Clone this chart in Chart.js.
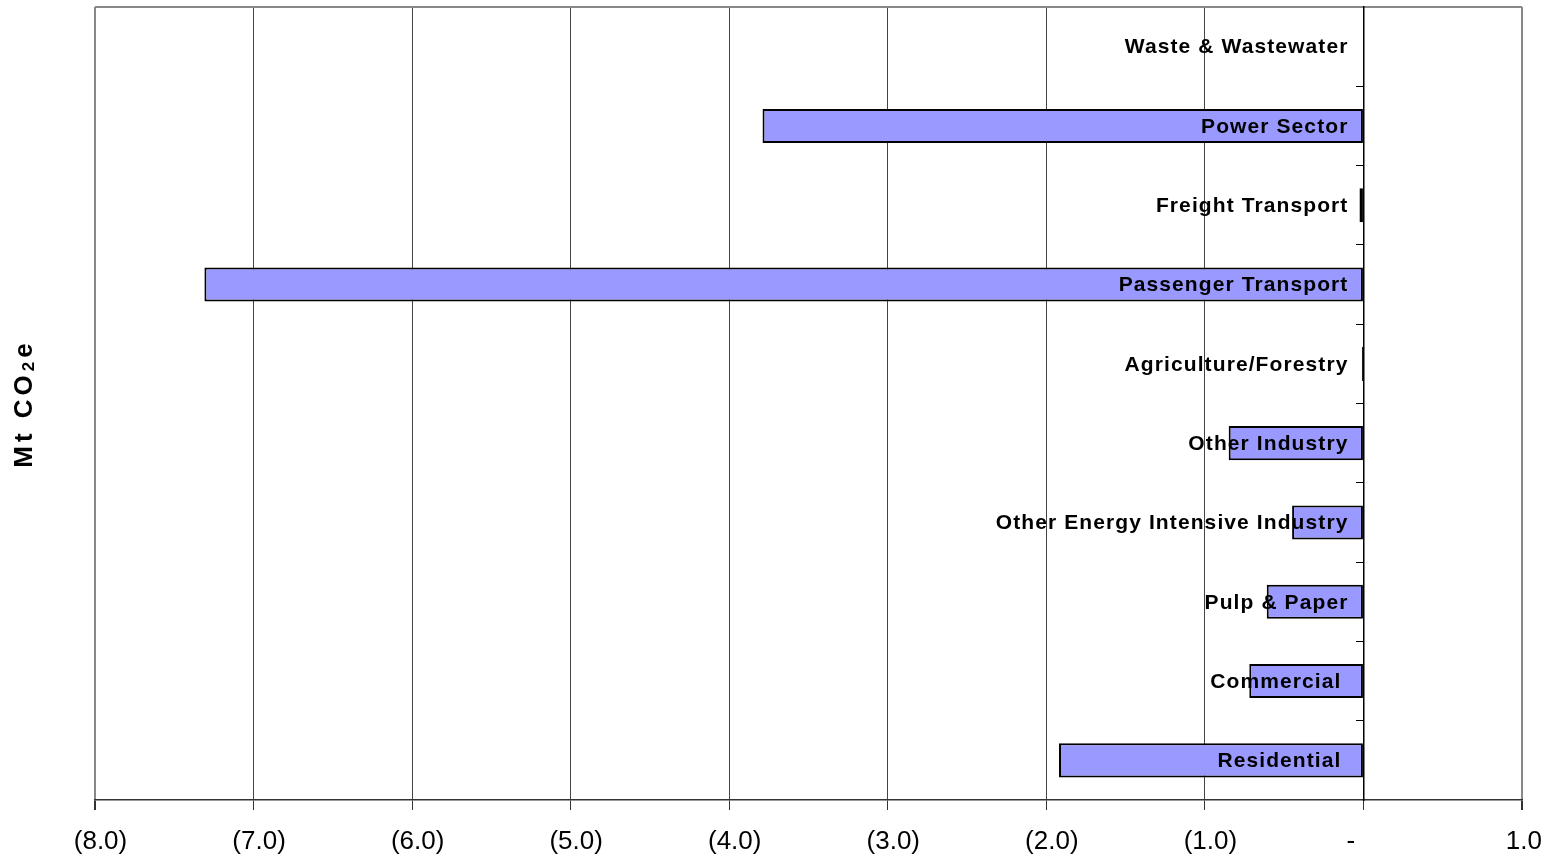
<!DOCTYPE html>
<html>
<head>
<meta charset="utf-8">
<script src="https://cdn.jsdelivr.net/npm/chart.js@4"></script>
<style>
  html, body { margin: 0; padding: 0; background: #fff; }
  #wrap { width: 1550px; height: 858px; }
</style>
</head>
<body>
<div id="wrap"><canvas id="chart"></canvas></div>
<script>
// sectors listed top to bottom (last two carry a trailing space in the source sheet)
const sectors = [
  'Waste & Wastewater',
  'Power Sector',
  'Freight Transport',
  'Passenger Transport',
  'Agriculture/Forestry',
  'Other Industry',
  'Other Energy Intensive Industry',
  'Pulp & Paper',
  'Commercial ',
  'Residential '
];
// change in emissions, Mt CO2e
const reductions = [0, -3.79, -0.025, -7.31, -0.01, -0.85, -0.45, -0.61, -0.72, -1.92];
const xMin = -8;
const xMax = 1;

const FONT = '"Liberation Sans", Arial, sans-serif';
Chart.defaults.font.family = FONT;
Chart.defaults.color = '#000';

// accounting style: (x.x) for negatives, dash for zero
function fmtTick(v) {
  if (v === 0) return '-     ';
  if (v < 0) return '(' + Math.abs(v).toFixed(1) + ')';
  return v.toFixed(1) + ' ';
}

// top edge of the plot box
const plotFrame = {
  id: 'plotFrame',
  beforeDatasetsDraw(chart) {
    const { ctx, chartArea } = chart;
    ctx.save();
    ctx.strokeStyle = '#888';
    ctx.lineWidth = 2;
    ctx.beginPath();
    ctx.moveTo(chartArea.left, chartArea.top);
    ctx.lineTo(chartArea.right, chartArea.top);
    ctx.stroke();
    ctx.restore();
  }
};

// sector names sit just left of the zero line, on top of the bars
const sectorLabels = {
  id: 'sectorLabels',
  afterDatasetsDraw(chart) {
    const { ctx, scales } = chart;
    const x0 = scales.x.getPixelForValue(0) - 15;
    ctx.save();
    ctx.font = 'bold 21px ' + FONT;
    ctx.letterSpacing = '1.1px';
    ctx.fillStyle = '#000';
    ctx.textAlign = 'right';
    ctx.textBaseline = 'middle';
    sectors.forEach((name, i) => {
      ctx.fillText(name, x0, scales.y.getPixelForValue(i) + 1);
    });
    ctx.restore();
  }
};

// rotated unit title with a subscript 2
const unitTitle = {
  id: 'unitTitle',
  afterDraw(chart) {
    const { ctx, chartArea } = chart;
    const parts = [
      { t: 'Mt CO', size: 26, dy: 0 },
      { t: '2', size: 17, dy: 2 },
      { t: 'e', size: 26, dy: 0 }
    ];
    ctx.save();
    ctx.letterSpacing = '4px';
    ctx.fillStyle = '#000';
    ctx.textBaseline = 'alphabetic';
    let total = 0;
    parts.forEach(p => {
      ctx.font = 'bold ' + p.size + 'px ' + FONT;
      p.w = ctx.measureText(p.t).width;
      total += p.w;
    });
    ctx.translate(32, (chartArea.top + chartArea.bottom) / 2);
    ctx.rotate(-Math.PI / 2);
    let x = -total / 2;
    parts.forEach(p => {
      ctx.font = 'bold ' + p.size + 'px ' + FONT;
      ctx.fillText(p.t, x, p.dy);
      x += p.w;
    });
    ctx.restore();
  }
};

const ctx = document.getElementById('chart').getContext('2d');
new Chart(ctx, {
  type: 'bar',
  data: {
    labels: sectors,
    datasets: [{
      data: reductions,
      backgroundColor: '#9999FF',
      borderColor: '#000',
      borderWidth: 2,
      borderSkipped: false,
      barPercentage: 0.43,
      categoryPercentage: 1
    }]
  },
  options: {
    indexAxis: 'y',
    responsive: true,
    maintainAspectRatio: false,
    animation: false,
    layout: { padding: { left: 95, right: 28, top: 7, bottom: 0 } },
    plugins: {
      legend: { display: false },
      tooltip: { enabled: false }
    },
    scales: {
      x: {
        type: 'linear',
        position: 'bottom',
        min: xMin,
        max: xMax,
        afterFit: s => {
          s.height = 58;
          s.paddingLeft = 0;
          s.paddingRight = 0;
        },
        ticks: {
          stepSize: 1,
          padding: 16,
          labelOffset: 5.5,
          font: { size: 26 },
          callback: v => fmtTick(v)
        },
        grid: {
          color: c => (c.index === 0 || c.tick && c.tick.value === xMax) ? '#888' : '#444',
          lineWidth: c => (c.index === 0 || c.tick && c.tick.value === xMax) ? 2 : 1,
          tickLength: 10,
          tickColor: '#333'
        },
        border: { color: '#333', width: 1.5 }
      },
      y: {
        type: 'category',
        position: { x: 0 },
        offset: true,
        ticks: { display: false },
        grid: {
          drawOnChartArea: false,
          offset: true,
          tickLength: 7,
          color: '#000'
        },
        border: { color: '#000', width: 1.5, z: 1 }
      }
    }
  },
  plugins: [plotFrame, sectorLabels, unitTitle]
});
</script>
</body>
</html>
